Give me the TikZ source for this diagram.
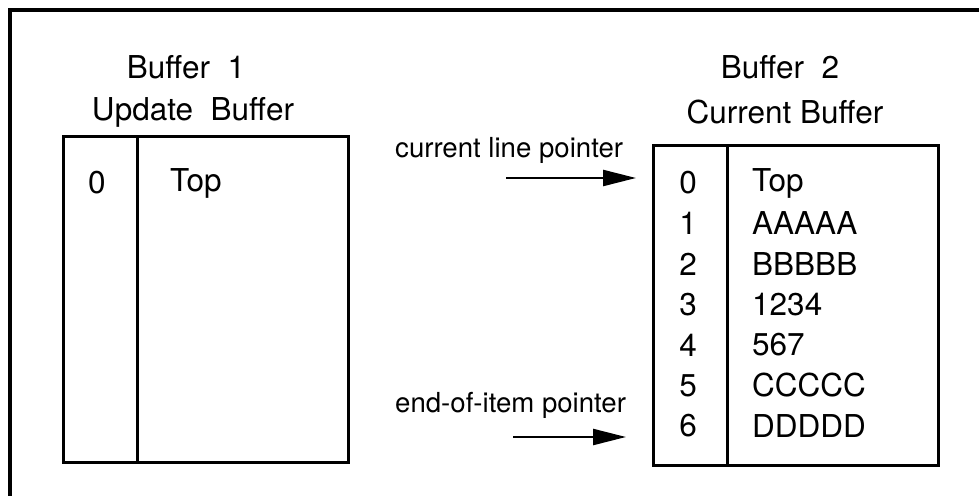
\documentclass[tikz,border=0pt]{standalone}
\usepackage{fontspec}
\setmainfont{TeX Gyre Heros}
\usetikzlibrary{arrows.meta}
\tikzset{
  frameline/.style={line width=3.4pt},
  boxline/.style={line width=3pt},
  big/.style={font=\fontsize{31.5}{37}\selectfont, inner sep=0pt},
  small/.style={font=\fontsize{27.6}{32}\selectfont, inner sep=0pt},
  idx/.style={big, anchor=center},
  txt/.style={big, anchor=west},
  ptr/.style={line width=2.4pt, -{Triangle[length=33pt,width=16pt]}},
}
\begin{document}
\begin{tikzpicture}[x=1pt,y=-1pt]
\useasboundingbox (0,0) rectangle (979,495);
% outer frame (cropped)
\draw[frameline] (10,497) -- (10,10) -- (981,10);
% Buffer 1
\node[big] (t1a) at (186,67) {Buffer\ \ 1};
\node[big] (t1b) at (193,112) {Update\ \ Buffer};
\draw[boxline] (63,136) rectangle (348,462);
\draw[boxline] (137,136) -- (137,462);
\node[idx] (l0) at (97,183) {0};
\node[txt] (lt0) at (170,183) {Top};
% Buffer 2
\node[big] (t2a) at (780,67) {Buffer\ \ 2};
\node[big] (t2b) at (785,112) {Current Buffer};
\draw[boxline] (653,145) rectangle (938,465);
\draw[boxline] (727,145) -- (727,465);
\foreach \i/\t in {0/Top,1/AAAAA,2/BBBBB,3/1234,4/567,5/CCCCC,6/DDDDD}{
  \node[idx] (r\i) at (688,{183+40.5*\i}) {\i};
  \node[txt] (c\i) at (752,{183+40.5*\i}) {\t};
}
% pointers
\node[small, anchor=west] (p1) at (395,150) {current line pointer};
\coordinate (p1s) at (506,178);
\coordinate (p1e) at (636,178);
\draw[ptr] (p1s) -- (p1e);
\node[small, anchor=west] (p2) at (395,405) {end-of-item pointer};
\coordinate (p2s) at (513,437);
\coordinate (p2e) at (626,437);
\draw[ptr] (p2s) -- (p2e);
\end{tikzpicture}
\end{document}
